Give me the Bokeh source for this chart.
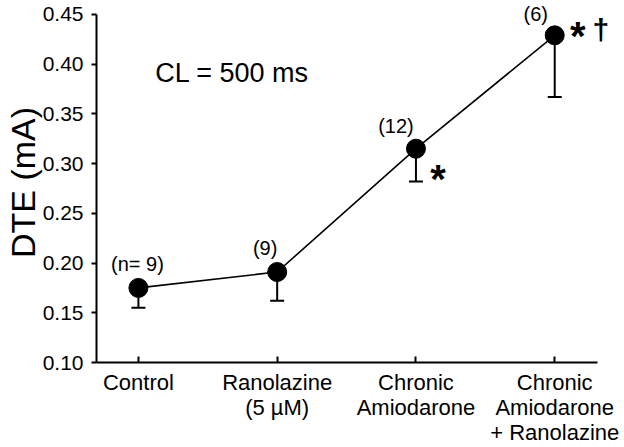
from bokeh.plotting import figure
from bokeh.models import Range1d, FixedTicker, ColumnDataSource, Whisker, TeeHead, LabelSet
from bokeh.core.properties import value
from bokeh.embed import file_html
from bokeh.resources import INLINE

# ---- data ----
groups = ["Control", "Ranolazine\n(5 µM)", "Chronic\nAmiodarone", "Chronic\nAmiodarone\n+ Ranolazine"]
positions = [1, 2, 3, 4]
dte_mean = [0.175, 0.191, 0.315, 0.429]
dte_lower = [0.155, 0.162, 0.282, 0.367]
n_labels = ["(n= 9)", "(9)", "(12)", "(6)"]
y_ticks = [0.10, 0.15, 0.20, 0.25, 0.30, 0.35, 0.40, 0.45]
y_tick_labels = ["0.10", "0.15", "0.20", "0.25", "0.30", "0.35", "0.40", "0.45"]
star_groups = [3, 4]
dagger_groups = [4]
annotation_text = "CL = 500 ms"
y_title = "DTE (mA)"

FONT = "Liberation Sans"
Y_MIN, Y_MAX = 0.10, 0.45
X_MIN, X_MAX = 0.698, 4.31

p = figure(width=624, height=447, output_backend="svg", toolbar_location=None,
           x_range=Range1d(X_MIN, 4.474), y_range=Range1d(Y_MIN, 0.462),
           min_border_left=94, min_border_top=2, min_border_right=4, min_border_bottom=83)
p.outline_line_color = None
p.xgrid.visible = False
p.ygrid.visible = False
p.background_fill_color = "white"
p.border_fill_color = "white"

# y axis
p.yaxis.bounds = (Y_MIN, Y_MAX)
p.yaxis.ticker = FixedTicker(ticks=y_ticks)
p.yaxis.major_label_overrides = {t: l for t, l in zip(y_ticks, y_tick_labels)}
p.yaxis.major_label_text_font = FONT
p.yaxis.major_label_text_font_size = "21px"
p.yaxis.major_label_standoff = 8
p.yaxis.major_tick_out = 5
p.yaxis.major_tick_in = 0
p.yaxis.minor_tick_line_color = None
p.yaxis.axis_label = y_title
p.yaxis.axis_label_text_font = FONT
p.yaxis.axis_label_text_font_size = "34px"
p.yaxis.axis_label_text_font_style = "normal"
p.yaxis.axis_label_text_color = "black"
p.yaxis.axis_label_standoff = -2

# x axis (ticks inside)
p.xaxis.bounds = (X_MIN, X_MAX)
p.xaxis.ticker = FixedTicker(ticks=positions)
p.xaxis.major_label_overrides = {pos: g for pos, g in zip(positions, groups)}
p.xaxis.major_label_text_font = FONT
p.xaxis.major_label_text_font_size = "22px"
p.xaxis.major_label_text_line_height = 1.0
p.xaxis.major_label_standoff = 7
p.xaxis.major_tick_out = 0
p.xaxis.major_tick_in = 6
p.xaxis.minor_tick_line_color = None

for ax in (p.xaxis, p.yaxis):
    ax.axis_line_width = 2
    ax.major_tick_line_width = 2
    ax.axis_line_color = "black"
    ax.major_label_text_color = "black"

src = ColumnDataSource(dict(x=positions, mean=dte_mean, lower=dte_lower, n=n_labels,
                            nx_off=[-1, -12, -20, -19], ny_off=[24, 24, 23, 21]))

# connecting line
p.line("x", "mean", source=src, line_color="black", line_width=1.6)

# error bars (downward only)
p.add_layout(Whisker(source=src, base="x", upper="mean", lower="lower",
                     line_color="black", line_width=2, upper_head=None,
                     lower_head=TeeHead(size=14, line_color="black", line_width=2)))

# markers
p.scatter("x", "mean", source=src, size=19, fill_color="black", line_color="black")

# n labels
p.add_layout(LabelSet(x="x", y="mean", text="n", source=src,
                      x_offset="nx_off", y_offset="ny_off",
                      text_font=value(FONT), text_font_size="20px",
                      text_align="center", text_baseline="middle", text_color="black"))

# significance markers
star_src = ColumnDataSource(dict(x=star_groups,
                                 y=[dte_mean[g - 1] for g in star_groups],
                                 s=["*"] * len(star_groups),
                                 xo=[22, 23], yo=[-30, -1]))
p.add_layout(LabelSet(x="x", y="y", text="s", source=star_src,
                      x_offset="xo", y_offset="yo",
                      text_font=value(FONT), text_font_size="40px", text_font_style="bold",
                      text_align="center", text_baseline="middle", text_color="black"))
dag_src = ColumnDataSource(dict(x=dagger_groups,
                                y=[dte_mean[g - 1] for g in dagger_groups],
                                s=["†"] * len(dagger_groups)))
p.add_layout(LabelSet(x="x", y="y", text="s", source=dag_src, x_offset=46, y_offset=6,
                      text_font=value(FONT), text_font_size="30px", text_font_style="bold",
                      text_align="center", text_baseline="middle", text_color="black"))

# CL annotation
p.text(x=[1.675], y=[0.391], text=[annotation_text], text_font=value(FONT),
       text_font_size="27px", text_align="center", text_baseline="middle",
       text_color="black")

open("out.html", "w").write(file_html(p, INLINE))
